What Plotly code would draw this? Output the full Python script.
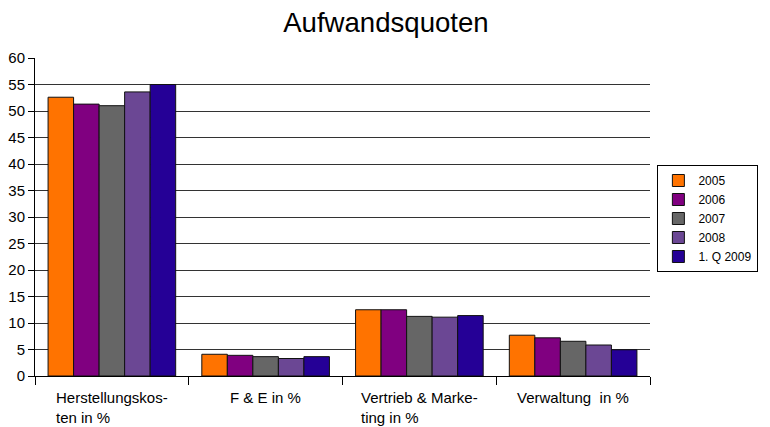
import plotly.graph_objects as go

categories = ["Herstellungskos-<br>ten in %", "F & E in %", "Vertrieb & Marke-<br>ting in %", "Verwaltung  in %"]
series_names = ["2005", "2006", "2007", "2008", "1. Q 2009"]
v2005 = [52.6, 4.1, 12.5, 7.7]
v2006 = [51.3, 3.9, 12.5, 7.2]
v2007 = [51.0, 3.65, 11.25, 6.55]
v2008 = [53.6, 3.3, 11.1, 5.85]
vq2009 = [55.0, 3.65, 11.4, 4.95]
colors = ["#ff7300", "#800080", "#666666", "#6b4794", "#250096"]

values = [v2005, v2006, v2007, v2008, vq2009]
cat_ids = ["c0", "c1", "c2", "c3"]
FONT = "Liberation Sans, Arial, sans-serif"

fig = go.Figure()
for name, vals, col in zip(series_names, values, colors):
    fig.add_trace(go.Bar(x=cat_ids, y=vals, name=name,
                         marker=dict(color=col, line=dict(color="#111111", width=1))))

for cid, lab in zip(cat_ids, categories):
    fig.add_annotation(x=cid, xref="x", y=-0.035, yref="paper", text=lab, showarrow=False,
                       align="left", xanchor="center", yanchor="top",
                       font=dict(family=FONT, size=15, color="#000000"))

# page body has an 8px margin, so the figure is sized to fit the 770x427 window
fig.update_layout(
    width=762, height=419,
    margin=dict(l=27, r=118, t=50, b=51),
    paper_bgcolor="white", plot_bgcolor="white",
    font=dict(family=FONT, size=15, color="#000000"),
    title=dict(text="Aufwandsquoten", x=0.496, xanchor="center", y=0.966, yanchor="middle",
               font=dict(size=27.6, color="#000000")),
    barmode="group", bargap=0.17, bargroupgap=0,
    showlegend=True,
    legend=dict(x=1.012, y=0.6635, xanchor="left", yanchor="top", bordercolor="#000000", borderwidth=1,
                font=dict(size=12), tracegroupgap=0),
    xaxis=dict(showticklabels=False, showline=True, linecolor="#000000", linewidth=1,
               ticks="outside", tickson="boundaries", ticklen=8, tickcolor="#000000",
               showgrid=False, zeroline=False, automargin=False),
    yaxis=dict(range=[0, 60], dtick=5, showline=True, linecolor="#000000", linewidth=1,
               ticks="outside", ticklen=6, tickcolor="#000000",
               showgrid=True, gridcolor="#333333", gridwidth=1, zeroline=False,
               tickfont=dict(size=15), automargin=False),
)

fig.write_html("out.html")
